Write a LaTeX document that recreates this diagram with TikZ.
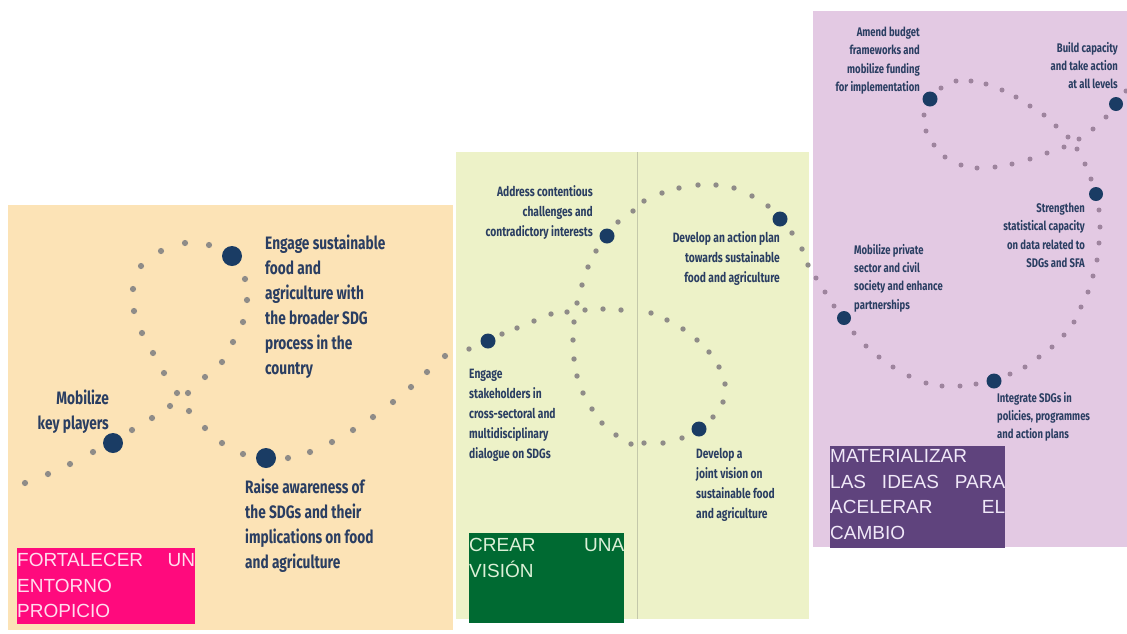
\documentclass[tikz,border=0pt]{standalone}
\usepackage{fontspec}
\newfontfamily\boxfont{Liberation Sans}
\newfontfamily\labfont[FakeStretch=0.76]{Fira Sans}
\definecolor{orangebg}{RGB}{252,227,182}
\definecolor{greenbg}{RGB}{237,242,200}
\definecolor{purplebg}{RGB}{227,201,227}
\definecolor{sepgray}{RGB}{196,200,170}
\definecolor{dotgray}{RGB}{143,140,136}
\definecolor{dotmauve}{RGB}{158,132,158}
\definecolor{navy}{RGB}{26,60,100}
\definecolor{labnavy}{RGB}{42,62,98}
\definecolor{magbox}{RGB}{255,10,125}
\definecolor{grnbox}{RGB}{0,106,50}
\definecolor{purbox}{RGB}{95,67,125}
\definecolor{magtext}{RGB}{255,220,238}
\definecolor{grntext}{RGB}{220,240,215}
\definecolor{purtext}{RGB}{240,232,248}
\begin{document}
\begin{tikzpicture}[x=1pt,y=-1pt,
  bigdot/.style={circle,fill=navy,inner sep=0pt,minimum size=#1},
  lab/.style={inner sep=0pt,text=labnavy,font=\labfont\bfseries},
  labO/.style={lab,font=\labfont\bfseries\fontsize{18}{25}\selectfont},
  labG/.style={lab,font=\labfont\bfseries\fontsize{13.5}{20}\selectfont},
  labP/.style={lab,font=\labfont\bfseries\fontsize{12.5}{18.3}\selectfont},
  tagbox/.style={inner sep=0pt,anchor=north west},
  tagtext/.style={inner sep=0pt,anchor=north west,align=left,font=\boxfont\fontsize{19}{25.5}\selectfont}
]
\useasboundingbox (0,0) rectangle (1127,633);
\fill[white] (0,0) rectangle (1127,633);
% panels
\fill[orangebg] (8,205) rectangle (453,630);
\fill[greenbg] (456,152) rectangle (809,619);
\draw[sepgray,line width=1pt] (637,152) -- (637,619);
\fill[purplebg] (813,11) rectangle (1127,547);
% small dots
\foreach \p in {(25,483),(48,474),(70,464),(93,452),(132,430),(152,418),(170,406),(188,393),(205,377),(222,362),(233,342),(243,322),(247,300),(245,279),(209,245),(185,243),(161,251),(141,266),(133,289),(134,311),(142,333),(153,353),(164,373),(177,393),(189,411),(205,428),(222,443),(243,454),(288,458),(310,452),(332,442),(353,430),(373,417),(393,402),(411,387),(427,372),(445,356)}
  \fill[dotgray] \p circle (3.1pt);
\foreach \p in {(469,349),(502,334),(517,328),(534,321),(551,314),(567,312),(585,310),(603,309),(621,310),(651,313),(667,320),(683,329),(697,340),(709,352),(719,367),(725,384),(723,402),(713,417),(682,438),(663,443),(644,443),(631,444),(616,435),(602,423),(592,409),(583,393),(577,376),(574,359),(573,340),(574,322),(577,303),(582,285),(588,267),(596,251),(618,222),(633,211),(644,201),(662,193),(679,188),(698,185),(716,185),(734,188),(752,196),(768,206),(792,233),(802,249),(808,265)}
  \fill[dotgray] \p circle (2.7pt);
\foreach \p in {(816,278),(825,292),(834,306),(854,333),(866,346),(879,357),(893,367),(909,376),(926,383),(942,386),(960,386),(976,384),(1010,374),(1025,367),(1039,357),(1052,347),(1064,335),(1074,322),(1081,307),(1088,292),(1093,276),(1097,260),(1099,243),(1100,227),(1099,210),(1091,179),(1085,164),(1077,149),(1068,137),(1056,126),(1044,115),(1030,106),(1016,97),(1002,90),(986,84),(971,81),(956,81),(941,88),(924,115),(926,131),(934,145),(945,157),(961,165),(977,168),(995,167),(1012,164),(1030,159),(1047,153),(1064,147),(1079,139),(1093,129),(1106,117),(1126,91)}
  \fill[dotmauve] \p circle (2.5pt);
% milestones
\node[bigdot=20pt] (m1) at (113,443) {};
\node[bigdot=20pt] (e1) at (232,256) {};
\node[bigdot=20pt] (r1) at (266,458) {};
\node[bigdot=15pt] (g1) at (488,341) {};
\node[bigdot=15pt] (g2) at (699,429) {};
\node[bigdot=15pt] (g3) at (607,236) {};
\node[bigdot=15pt] (g4) at (780,219) {};
\node[bigdot=14pt] (p1) at (844,318) {};
\node[bigdot=15pt] (p2) at (994,381) {};
\node[bigdot=14pt] (p3) at (1096,194) {};
\node[bigdot=15pt] (p4) at (930,99) {};
\node[bigdot=14pt] (p5) at (1116,104) {};
% labels orange
\node[labO,anchor=north west,align=left] (le1) at (265,234.5) {Engage sustainable\\food and\\agriculture with\\the broader SDG\\process in the\\country};
\node[labO,anchor=north east,align=right] (lm1) at (109,389.5) {Mobilize\\key players};
\node[labO,anchor=north west,align=left] (lr1) at (245,478.5) {Raise awareness of\\the SDGs and their\\implications on food\\and agriculture};
% labels green
\node[labG,anchor=north east,align=right] (lg3) at (593,185.5) {Address contentious\\challenges and\\contradictory interests};
\node[labG,anchor=north east,align=right] (lg4) at (780,231.5) {Develop an action plan\\towards sustainable\\food and agriculture};
\node[labG,anchor=north west,align=left] (lg1) at (469,368.5) {Engage\\stakeholders in\\cross-sectoral and\\multidisciplinary\\dialogue on SDGs};
\node[labG,anchor=north west,align=left] (lg2) at (696,448.5) {Develop a\\joint vision on\\sustainable food\\and agriculture};
% labels purple
\node[labP,anchor=north east,align=right] (lp4) at (920,27) {Amend budget\\frameworks and\\mobilize funding\\for implementation};
\node[labP,anchor=north east,align=right] (lp5) at (1118,42) {Build capacity\\and take action\\at all levels};
\node[labP,anchor=north east,align=right] (lp3) at (1085,203) {Strengthen\\statistical capacity\\on data related to\\SDGs and SFA};
\node[labP,anchor=north west,align=left] (lp1) at (854,244) {Mobilize private\\sector and civil\\society and enhance\\partnerships};
\node[labP,anchor=north west,align=left] (lp2) at (997,392) {Integrate SDGs in\\policies, programmes\\and action plans};
% tag boxes
\node[tagbox,fill=magbox,minimum width=178pt,minimum height=76pt] (tb1) at (17,548) {};
\node[tagtext,text=magtext,text width=178pt] (tt1) at (17,553.5) {FORTALECER\hspace{\fill}UN\\ENTORNO\\PROPICIO};
\node[tagbox,fill=grnbox,minimum width=155pt,minimum height=90pt] (tb2) at (469,533) {};
\node[tagtext,text=grntext,text width=155pt] (tt2) at (469,538.5) {CREAR\hspace{\fill}UNA\\VISIÓN};
\node[tagbox,fill=purbox,minimum width=175pt,minimum height=102pt] (tb3) at (830,446) {};
\node[tagtext,text=purtext,text width=175pt] (tt3) at (830,449.5) {MATERIALIZAR\\LAS\hspace{\fill}IDEAS\hspace{\fill}PARA\\ACELERAR\hspace{\fill}EL\\CAMBIO};
\end{tikzpicture}
\end{document}
